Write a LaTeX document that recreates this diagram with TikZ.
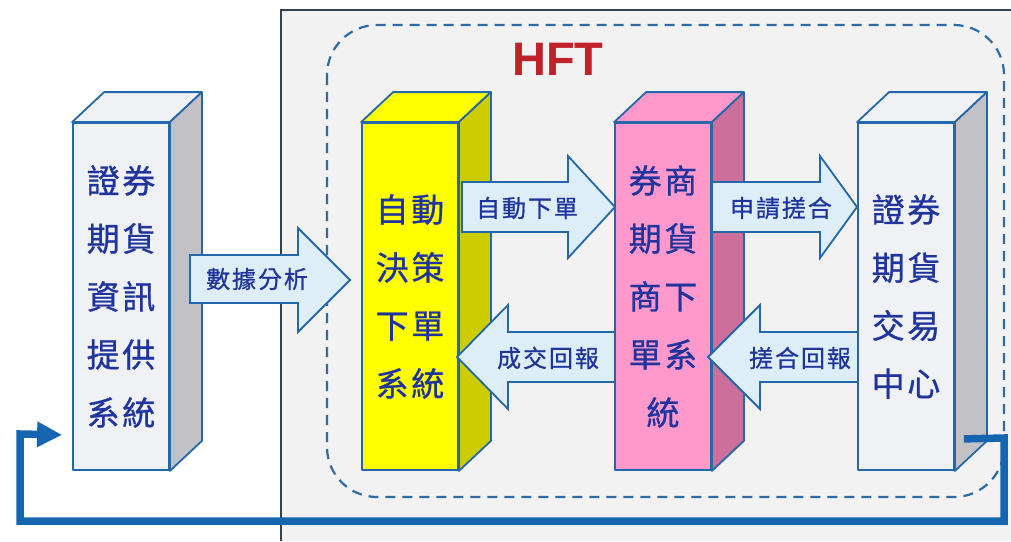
\documentclass[tikz,border=0pt]{standalone}
\usepackage{fontspec}
\setmainfont{Liberation Sans}
\newfontfamily\cjkfam[LetterSpace=8,FakeBold=0.8]{Noto Sans CJK TC}
\usetikzlibrary{arrows.meta,calc}
\definecolor{edge}{HTML}{2268AA}
\definecolor{txt}{HTML}{1F349C}
\definecolor{panelfill}{HTML}{F2F2F2}
\definecolor{panelline}{HTML}{34414F}
\definecolor{arrfill}{HTML}{DDEEF8}
\definecolor{dashcol}{HTML}{2E6AA4}
\definecolor{loopcol}{HTML}{1565B0}
\definecolor{hftred}{HTML}{C0222A}
\definecolor{greyfront}{HTML}{F0F1F5}
\definecolor{greyside}{HTML}{C2C2C6}
\definecolor{yelfront}{HTML}{FFFF00}
\definecolor{yelside}{HTML}{CCCC00}
\definecolor{pinkfront}{HTML}{FF99CC}
\definecolor{pinkside}{HTML}{CC6F9A}
\newcommand\cjkbig{\cjkfam\fontsize{33}{58}\selectfont}
\newcommand\cjksmall{\cjkfam\fontsize{24}{28}\selectfont}
\tikzset{
  face/.style={draw=edge, line width=1.8pt, line join=round},
  frontface/.style={face, minimum width=96pt, minimum height=347pt, inner sep=0pt,
     font=\cjkbig, text=txt, align=center},
  blockarrow/.style={draw=edge, fill=arrfill, line width=1.8pt, line join=miter},
  arrtext/.style={font=\cjksmall, text=txt, inner sep=0pt},
  loopline/.style={draw=loopcol, line width=7.5pt, line join=miter},
}
\newcommand\prism[3]{% node name, side colour, top colour
  \draw[face, fill=#3] (#1.north west) -- ++(32,-30) -- ($(#1.north east)+(32,-30)$) -- (#1.north east) -- cycle;
  \draw[face, fill=#2] (#1.north east) -- ++(32,-30) -- ($(#1.south east)+(32,-30)$) -- (#1.south east) -- cycle;
}
\begin{document}
\begin{tikzpicture}[x=1pt,y=-1pt]
\useasboundingbox (0,0) rectangle (1011,541);
\fill[white] (0,0) rectangle (1011,541);
% panel
\fill[panelfill] (281,10) rectangle (1011,541);
\draw[panelline, line width=1.2pt] (281,541) -- (281,10) -- (1011,10);
% dashed HFT boundary
\draw[dashcol, line width=2.2pt, dash pattern=on 10pt off 7pt, rounded corners=50pt]
  (327,25) rectangle (1004,497);
\node[font=\bfseries\fontsize{47}{47}\selectfont, text=hftred, inner sep=0pt] (hft) at (558,59) {HFT};
% boxes
\node[frontface, fill=greyfront] (b1) at (121,296.5) {證券\\期貨\\資訊\\提供\\系統};
\prism{b1}{greyside}{greyfront}
\node[frontface, fill=yelfront] (b2) at (410,296.5) {自動\\決策\\下單\\系統};
\prism{b2}{yelside}{yelfront}
\node[frontface, fill=pinkfront] (b3) at (663,296.5) {券商\\期貨\\商下\\單系\\統};
\prism{b3}{pinkside}{pinkfront}
\node[frontface, fill=greyfront] (b4) at (906,296.5) {證券\\期貨\\交易\\中心};
\prism{b4}{greyside}{greyfront}
% block arrows
\draw[blockarrow] (190,255) -- (298,255) -- (298,228) -- (350,280) -- (298,332) -- (298,303) -- (190,303) -- cycle;
\node[arrtext] (l1) at (257,279) {數據分析};
\draw[blockarrow] (462,182) -- (568,182) -- (568,156) -- (615,207) -- (568,258) -- (568,232) -- (462,232) -- cycle;
\node[arrtext] (l2) at (527,208) {自動下單};
\draw[blockarrow] (615,332) -- (508,332) -- (508,305) -- (457,357) -- (508,409) -- (508,382) -- (615,382) -- cycle;
\node[arrtext] (l3) at (548,358) {成交回報};
\draw[blockarrow] (712,182) -- (820,182) -- (820,156) -- (857,207) -- (820,258) -- (820,232) -- (712,232) -- cycle;
\node[arrtext] (l4) at (781,208) {申請搓合};
\draw[blockarrow] (858,332) -- (760,332) -- (760,305) -- (708,357) -- (760,409) -- (760,382) -- (858,382) -- cycle;
\node[arrtext] (l5) at (800,358) {搓合回報};
% feedback loop
\coordinate (loopstart) at ($(b4.south east)+(9,-32)$);
\coordinate (loopend) at ($(b1.south west)+(-10,-36)$);
\draw[loopline, -{Triangle[length=25pt,width=24pt]}]
  (loopstart) -- (1004,438) -- (1004,521) -- (20,521) -- (20,434) -- (loopend);
\end{tikzpicture}
\end{document}
